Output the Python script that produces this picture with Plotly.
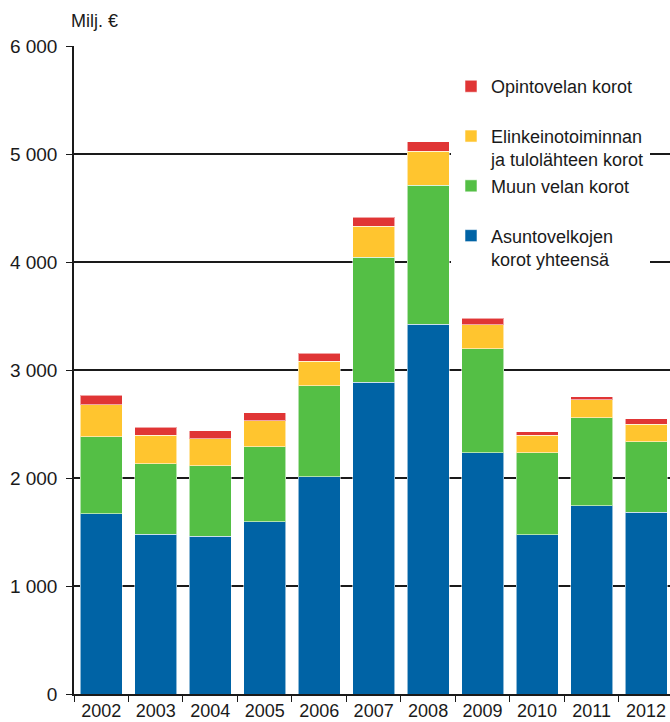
import plotly.graph_objects as go

# Kotitalouksien maksamat korot, milj. euroa
years = ["2002", "2003", "2004", "2005", "2006", "2007",
         "2008", "2009", "2010", "2011", "2012"]
asuntovelka = [1670, 1478, 1462, 1596, 2010, 2887, 3422, 2232, 1475, 1741, 1682]
muu_velka = [710, 652, 653, 695, 846, 1158, 1291, 967, 757, 819, 655]
elinkeino = [300, 266, 250, 237, 226, 285, 312, 219, 164, 163, 163]
opintovelka = [86, 74, 74, 78, 71, 86, 89, 62, 30, 28, 47]

y_ticks = [0, 1000, 2000, 3000, 4000, 5000, 6000]
y_tick_labels = ["0", "1 000", "2 000", "3 000", "4 000", "5 000", "6 000"]

FONT = "Liberation Sans, Arial, sans-serif"
NBSP = "\u00a0"

# stacking order bottom -> top; legend lists them top -> bottom
series = [
    ("Asuntovelkojen<br>korot yhteensä", asuntovelka, "#0063A5"),
    ("Muun velan korot<br>" + NBSP, muu_velka, "#54BF45"),
    ("Elinkeinotoiminnan<br>ja tulolähteen korot", elinkeino, "#FFC52F"),
    ("Opintovelan korot<br>" + NBSP, opintovelka, "#E03535"),
]

fig = go.Figure()
for i, (name, vals, color) in enumerate(series):
    fig.add_trace(go.Bar(
        x=years, y=vals, name=name,
        marker=dict(color=color, line=dict(color="rgba(255,255,255,0.55)", width=1)),
        legendrank=len(series) - i,
    ))

fig.update_layout(
    width=670, height=722,
    margin=dict(l=74, r=0, t=46, b=28),
    barmode="stack",
    bargap=0.23,
    paper_bgcolor="white",
    plot_bgcolor="white",
    font=dict(family=FONT, size=19, color="#1a1a1a"),
    legend=dict(
        x=(451 - 74) / 596, xanchor="left",
        y=0.966, yanchor="top",
        bgcolor="white",
        borderwidth=0,
        traceorder="normal",
        valign="top",
        font=dict(family=FONT, size=18, color="#1a1a1a"),
    ),
    xaxis=dict(
        type="category",
        range=[-0.5, 10.44],
        automargin=False,
        showline=True, linecolor="#1a1a1a", linewidth=1.5,
        ticks="outside", tickson="boundaries", ticklen=6,
        tickcolor="#1a1a1a", tickwidth=1.2,
        ticklabelstandoff=0,
        showgrid=False,
        tickfont=dict(size=18),
    ),
    yaxis=dict(
        range=[0, 6000],
        automargin=False,
        tickvals=y_ticks, ticktext=y_tick_labels,
        showline=True, linecolor="#1a1a1a", linewidth=1.5,
        ticks="outside", ticklen=6, tickcolor="#1a1a1a", tickwidth=1.2,
        ticklabelstandoff=5,
        showgrid=True, gridcolor="#1a1a1a", gridwidth=1.5,
        zeroline=False,
        tickfont=dict(size=19),
    ),
    annotations=[dict(
        text="Milj. €", xref="paper", yref="paper",
        x=(69 - 74) / 596, y=1 + (46 - 21) / 648,
        xanchor="left", yanchor="middle", showarrow=False,
        font=dict(family=FONT, size=18, color="#1a1a1a"),
    )],
)

fig.write_html("out.html")
